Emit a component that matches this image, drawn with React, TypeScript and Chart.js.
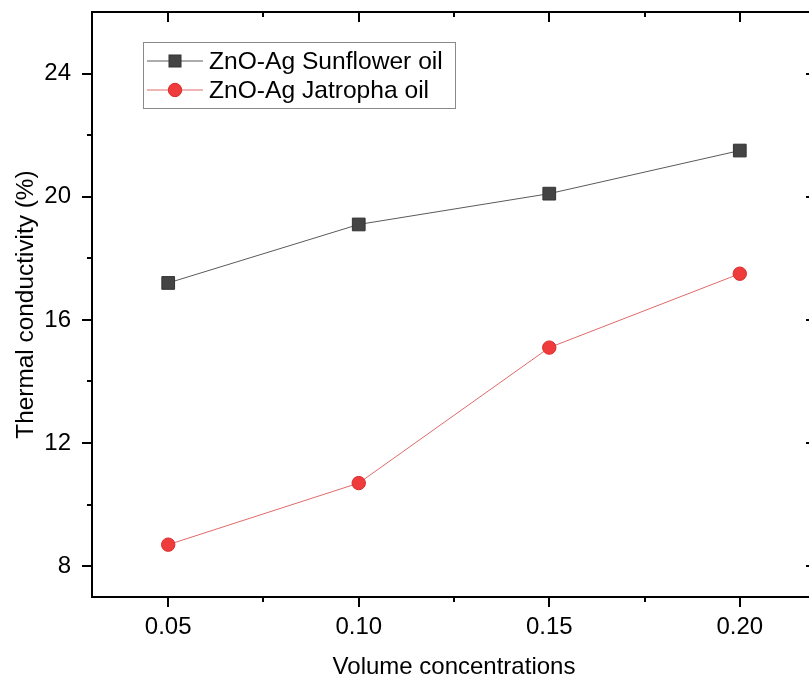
import React, { useEffect, useRef } from "react";
import { Chart, registerables } from "chart.js";

Chart.register(...registerables);

const concentrations = [0.05, 0.1, 0.15, 0.2];
const sunflower = [17.2, 19.1, 20.1, 21.5];
const jatropha = [8.7, 10.7, 15.1, 17.5];
const xTickValues = [0.05, 0.1, 0.15, 0.2];
const xMinorValues = [0.075, 0.125, 0.175];
const yTickValues = [8, 12, 16, 20, 24];
const yMinorValues = [10, 14, 18, 22];
const seriesNames = ["ZnO-Ag Sunflower oil", "ZnO-Ag Jatropha oil"];

const FONT = "'Liberation Sans', Arial, sans-serif";

const framePlugin = {
  id: "frame",
  beforeDatasetsDraw(chart: any) {
    const { ctx, chartArea: a, scales } = chart;
    const xs = scales.x;
    const ys = scales.y;
    ctx.save();
    ctx.strokeStyle = "#000";
    ctx.lineWidth = 2;
    ctx.beginPath();
    ctx.rect(a.left, a.top, a.right - a.left, a.bottom - a.top);
    ctx.stroke();
    const major = 10;
    const minor = 5;
    ctx.beginPath();
    const xt = (v: number, len: number) => {
      const px = Math.round(xs.getPixelForValue(v));
      ctx.moveTo(px, a.bottom);
      ctx.lineTo(px, a.bottom + len);
      ctx.moveTo(px, a.top);
      ctx.lineTo(px, a.top + len);
    };
    const yt = (v: number, len: number) => {
      const py = Math.round(ys.getPixelForValue(v));
      ctx.moveTo(a.left, py);
      ctx.lineTo(a.left - len, py);
      ctx.moveTo(a.right, py);
      ctx.lineTo(a.right - len, py);
    };
    xTickValues.forEach((v) => xt(v, major));
    xMinorValues.forEach((v) => xt(v, minor));
    yTickValues.forEach((v) => yt(v, major));
    yMinorValues.forEach((v) => yt(v, minor));
    ctx.stroke();
    ctx.restore();
  },
  afterDraw(chart: any) {
    const { ctx } = chart;
    const box = { x: 143.5, y: 42.5, w: 312, h: 66 };
    ctx.save();
    ctx.strokeStyle = "#8a8a8a";
    ctx.lineWidth = 1;
    ctx.strokeRect(box.x, box.y, box.w, box.h);
    const rows = [61, 90];
    chart.data.datasets.forEach((ds: any, i: number) => {
      const y = rows[i];
      ctx.strokeStyle = ds.borderColor;
      ctx.lineWidth = 1;
      ctx.beginPath();
      ctx.moveTo(147, y);
      ctx.lineTo(203, y);
      ctx.stroke();
      ctx.fillStyle = ds.pointBackgroundColor;
      ctx.strokeStyle = ds.pointBorderColor;
      ctx.lineWidth = 1;
      if (ds.pointStyle === "rect") {
        ctx.fillRect(169, y - 6, 12, 12);
        ctx.strokeRect(169, y - 6, 12, 12);
      } else {
        ctx.beginPath();
        ctx.arc(175, y, 6.7, 0, Math.PI * 2);
        ctx.fill();
        ctx.stroke();
      }
      ctx.fillStyle = "#000";
      ctx.font = `24.6px ${FONT}`;
      ctx.textBaseline = "middle";
      ctx.textAlign = "left";
      ctx.fillText(ds.label, 209, y + 1);
    });
    ctx.restore();
  },
};

const noPad = (s: any) => {
  s.paddingTop = 0;
  s.paddingBottom = 0;
  s.paddingLeft = 0;
  s.paddingRight = 0;
};

export default function App() {
  const ref = useRef<HTMLCanvasElement>(null);
  useEffect(() => {
    const canvas = ref.current!;
    const font = { family: FONT, size: 24 };
    const chart = new Chart(canvas, {
      type: "line",
      data: {
        datasets: [
          {
            label: seriesNames[0],
            data: concentrations.map((x, i) => ({ x, y: sunflower[i] })),
            borderColor: "#5a5a5a",
            borderWidth: 1,
            pointStyle: "rect",
            pointRadius: 9,
            pointBackgroundColor: "#444444",
            pointBorderColor: "#333333",
            pointBorderWidth: 1,
            tension: 0,
          },
          {
            label: seriesNames[1],
            data: concentrations.map((x, i) => ({ x, y: jatropha[i] })),
            borderColor: "#e06a6a",
            borderWidth: 1,
            pointStyle: "circle",
            pointRadius: 6.7,
            pointBackgroundColor: "#ef3b3b",
            pointBorderColor: "#d92a2a",
            pointBorderWidth: 1,
            tension: 0,
          },
        ],
      },
      options: {
        responsive: false,
        animation: false,
        events: [],
        layout: { padding: { top: 12, right: 14, left: 0, bottom: 0 } },
        plugins: { legend: { display: false }, tooltip: { enabled: false } },
        scales: {
          x: {
            type: "linear",
            min: 0.03,
            max: 0.22,
            afterBuildTicks: (s: any) => {
              s.ticks = xTickValues.map((v) => ({ value: v }));
            },
            afterFit: (s: any) => {
              s.height = 85;
              noPad(s);
            },
            ticks: {
              font,
              color: "#000",
              padding: 16,
              maxRotation: 0,
              autoSkip: false,
              callback: (v: any) => Number(v).toFixed(2),
            },
            grid: { display: false, drawTicks: false },
            border: { display: false },
            title: {
              display: true,
              text: "Volume concentrations",
              font,
              color: "#000",
              padding: { top: 0, bottom: 0 },
            },
          },
          y: {
            type: "linear",
            min: 7,
            max: 26,
            afterBuildTicks: (s: any) => {
              s.ticks = yTickValues.map((v) => ({ value: v }));
            },
            afterFit: (s: any) => {
              s.width = 92;
              noPad(s);
            },
            ticks: {
              font,
              color: "#000",
              padding: 21,
              autoSkip: false,
              callback: (v: any) => String(v),
            },
            grid: { display: false, drawTicks: false },
            border: { display: false },
            title: {
              display: true,
              text: "Thermal conductivity (%)",
              font: { family: FONT, size: 24.4 },
              color: "#000",
              padding: { top: 12, bottom: 0 },
            },
          },
        },
      },
      plugins: [framePlugin],
    } as any);
    return () => chart.destroy();
  }, []);
  return (
    <div
      style={{
        position: "absolute",
        left: 0,
        top: 0,
        width: 809,
        height: 682,
        overflow: "hidden",
        background: "#fff",
      }}
    >
      <canvas ref={ref} width={830} height={682} style={{ display: "block" }} />
    </div>
  );
}
